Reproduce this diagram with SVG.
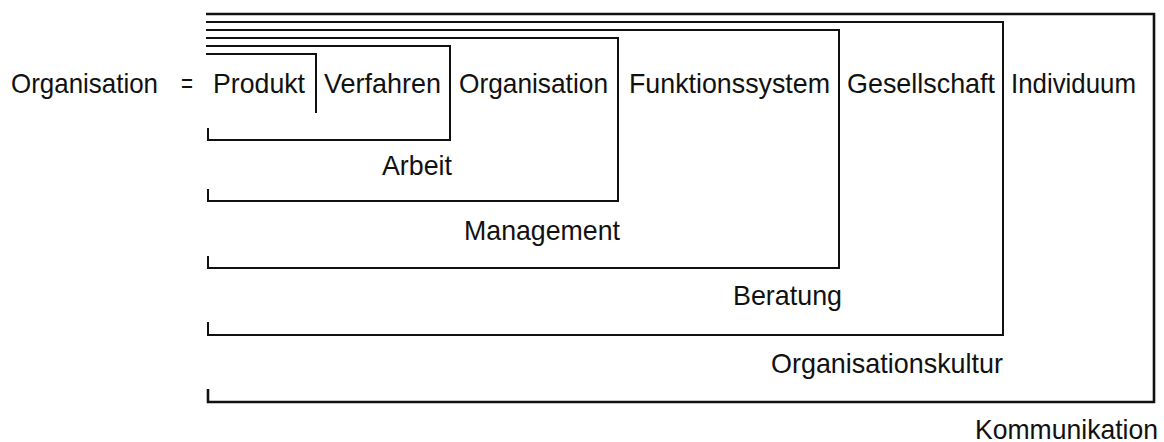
<svg xmlns="http://www.w3.org/2000/svg" width="1164" height="442" viewBox="0 0 1164 442">
  <style>
    .t { font-family: "Liberation Sans", Arial, sans-serif; font-size: 28px; fill: #111; }
    .b { fill: none; stroke: #111; stroke-width: 2; stroke-linejoin: miter; stroke-linecap: butt; }
    .outer { stroke-width: 2.6; }
  </style>
  <rect width="1164" height="442" fill="#fff"/>

  <!-- left-hand term of the equation -->
  <g id="lhs">
    <text class="t" x="11" y="93" textLength="147" lengthAdjust="spacingAndGlyphs">Organisation</text>
    <text class="t" x="181" y="93" textLength="12" lengthAdjust="spacingAndGlyphs">=</text>
  </g>

  <!-- nested brackets, innermost first -->
  <g id="produkt">
    <path class="b" d="M206,54 H316 V113"/>
    <text class="t" x="213" y="93" textLength="92" lengthAdjust="spacingAndGlyphs">Produkt</text>
  </g>

  <g id="arbeit">
    <path class="b" d="M208,128 V140 H450 V46 H206"/>
    <text class="t" x="324" y="93" textLength="117" lengthAdjust="spacingAndGlyphs">Verfahren</text>
    <text class="t" x="382" y="175" textLength="70" lengthAdjust="spacingAndGlyphs">Arbeit</text>
  </g>

  <g id="management">
    <path class="b" d="M208,189 V201 H618 V38 H206"/>
    <text class="t" x="459" y="93" textLength="149" lengthAdjust="spacingAndGlyphs">Organisation</text>
    <text class="t" x="464" y="240" textLength="156" lengthAdjust="spacingAndGlyphs">Management</text>
  </g>

  <g id="beratung">
    <path class="b" d="M208,256 V268 H839 V30 H206"/>
    <text class="t" x="629" y="93" textLength="201" lengthAdjust="spacingAndGlyphs">Funktionssystem</text>
    <text class="t" x="733" y="305" textLength="109" lengthAdjust="spacingAndGlyphs">Beratung</text>
  </g>

  <g id="organisationskultur">
    <path class="b" d="M208,322 V335 H1003 V22 H206"/>
    <text class="t" x="847" y="93" textLength="148" lengthAdjust="spacingAndGlyphs">Gesellschaft</text>
    <text class="t" x="771" y="373" textLength="232" lengthAdjust="spacingAndGlyphs">Organisationskultur</text>
  </g>

  <g id="kommunikation">
    <path class="b outer" d="M208,389 V402 H1154 V14 H206"/>
    <text class="t" x="1011" y="93" textLength="125" lengthAdjust="spacingAndGlyphs">Individuum</text>
    <text class="t" x="975" y="439" textLength="183" lengthAdjust="spacingAndGlyphs">Kommunikation</text>
  </g>

  <g id="connectors"></g>
</svg>
